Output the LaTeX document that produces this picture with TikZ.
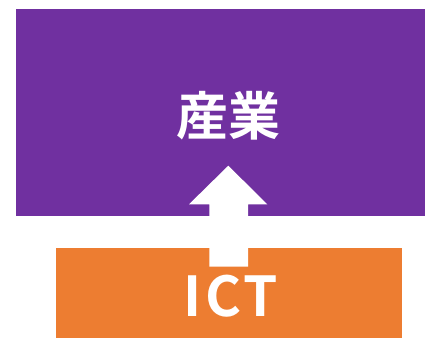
\documentclass[tikz,border=0pt]{standalone}
\usepackage{fontspec}
\newfontfamily\cjk{Noto Sans CJK JP Bold}
\newfontfamily\cjkwide[LetterSpace=6]{Noto Sans CJK JP Bold}
\definecolor{ipurple}{HTML}{7030A0}
\definecolor{iorange}{HTML}{ED7D31}
\begin{document}
\begin{tikzpicture}[x=1pt,y=-1pt,
  box/.style={inner sep=0pt, outer sep=0pt, draw=none},
  lbl/.style={text=white, inner sep=0pt}]
\useasboundingbox (0,0) rectangle (425,338);
\node[box, fill=ipurple, minimum width=409pt, minimum height=206.5pt] (industry) at (220.5,112.25) {};
\node[box, fill=iorange, minimum width=346pt, minimum height=89.7pt] (ict) at (229,292.85) {};
% arrow from ICT up into industry
\coordinate (tip) at (228.3,165.7);
\fill[white] (209.3,266.7) -- (209.3,204.3) -- (189,204.3) -- (tip)
  -- (267.3,204.3) -- (248,204.3) -- (248,266.7) -- cycle;
\node[lbl, font=\cjk\fontsize{52}{52}\selectfont] (t1) at (228.8,115.5) {産業};
\node[lbl, font=\cjkwide\fontsize{55}{55}\selectfont] (t2) at (231,296) {ICT};
\end{tikzpicture}
\end{document}
